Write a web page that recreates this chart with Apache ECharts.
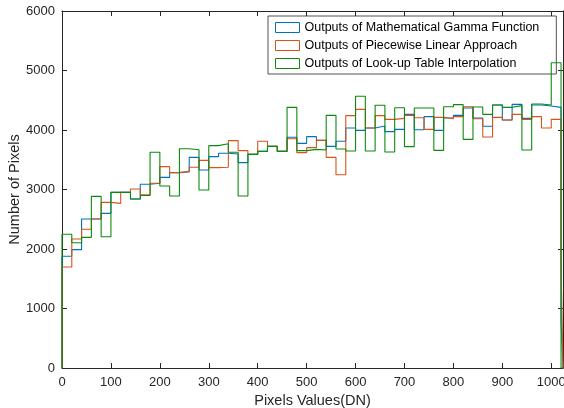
<!DOCTYPE html>
<html><head><meta charset="utf-8">
<script src="https://cdn.jsdelivr.net/npm/echarts@6/dist/echarts.min.js"></script>
<style>html,body{margin:0;padding:0;background:#fff}#c{width:564px;height:408px}</style>
</head><body><div id="c"></div>
<script>
// bin width 20 DN, last bin partial [1020,1024]
var binEdges = [];
for (var k = 0; k <= 51; k++) binEdges.push(k * 20);
binEdges.push(1024);

var seriesNames = ['Outputs of Mathematical Gamma Function','Outputs of Piecewise Linear Approach','Outputs of Look-up Table Interpolation'];

var gammaFn = [1877,1989,2504,2504,2599,2952,2952,2840,3087,3104,3204,3283,3300,3540,3328,3552,3608,3597,3451,3591,
  3641,3725,3641,3877,3776,3888,3826,3725,3810,4034,3994,4034,4067,3972,4011,4263,4005,4224,3994,4202,
  4246,4370,4202,4062,4420,4168,4431,4196,4420,4403,4381,800];
var piecewise = [1697,2168,2331,2504,2784,2767,2952,3008,2910,3104,3384,3283,3300,3373,3490,3367,3373,3821,3653,3591,
  3810,3725,3641,3854,3619,3703,3826,3540,3249,4241,4347,4034,4241,4179,4196,4246,4207,4011,4213,4190,
  4224,4392,4190,3882,4213,4168,4263,4179,4224,4034,4179,1750];
var lookup = [2247,2106,2196,2885,2207,2952,2952,2840,2900,3625,3059,2891,3686,3669,2992,3737,3770,3625,2891,3591,
  3641,3725,3641,4381,3653,3675,3664,4246,3681,3647,4566,3647,4415,3630,4375,3720,4370,4370,3658,4392,
  4426,3843,4387,4263,4420,4381,4409,3664,4437,4420,5131,0];

var xTicks = [0,100,200,300,400,500,600,700,800,900,1000];
var yTicks = [0,1000,2000,3000,4000,5000,6000];
var colors = ['#0072BD','#D95319','#0d8a0d'];

function stairs(vals){
  var pts = [[binEdges[0],0]];
  for (var i = 0; i < vals.length; i++){
    pts.push([binEdges[i], vals[i]]);
    pts.push([binEdges[i+1], vals[i]]);
  }
  pts.push([binEdges[vals.length], 0]);
  return pts;
}

var axisColor = '#262626';
var font = 'Liberation Sans, Arial, Helvetica, sans-serif';
var chart = echarts.init(document.getElementById('c'));
var allData = [gammaFn, piecewise, lookup];
chart.setOption({
  animation:false,
  backgroundColor:'#fff',
  grid:{left:62, top:11, width:501, height:357, containLabel:false, outerBoundsMode:'none'},
  legend:{
    orient:'vertical', left:268, top:16, padding:[5,17,4,7], itemGap:5,
    itemWidth:24, itemHeight:10, icon:'rect',
    backgroundColor:'#fff', borderColor:'#262626', borderWidth:0.8,
    itemStyle:{color:'#fff', borderColor:'inherit', borderWidth:1},
    textStyle:{fontFamily:font, fontSize:12.5, color:'#000'},
    data: seriesNames
  },
  xAxis:[{
    type:'value', min:0, max:1024, interval:100, position:'bottom',
    name:'Pixels Values(DN)', nameLocation:'middle', nameGap:24,
    nameTextStyle:{fontFamily:font, fontSize:14.5, color:axisColor},
    axisLine:{lineStyle:{color:axisColor, width:1}},
    axisTick:{inside:true, length:5, lineStyle:{color:axisColor}},
    axisLabel:{fontFamily:font, fontSize:13, color:axisColor, margin:8, showMaxLabel:false,
      formatter:function(v){return xTicks.indexOf(v)>=0 ? String(v) : '';}},
    splitLine:{show:false}
  },{
    type:'value', min:0, max:1024, interval:100, position:'top',
    axisLine:{show:true, onZero:false, lineStyle:{color:axisColor, width:1}},
    axisTick:{inside:true, length:5, lineStyle:{color:axisColor}},
    axisLabel:{show:false}, splitLine:{show:false}
  }],
  yAxis:[{
    type:'value', min:0, max:6000, interval:1000, position:'left',
    name:'Number of Pixels', nameLocation:'middle', nameGap:40, nameMoveOverlap:false,
    nameTextStyle:{fontFamily:font, fontSize:14.5, color:axisColor},
    axisLine:{show:true, lineStyle:{color:axisColor, width:1}},
    axisTick:{show:true, inside:true, length:5, lineStyle:{color:axisColor}},
    axisLabel:{fontFamily:font, fontSize:13, color:axisColor, margin:7,
      formatter:function(v){return yTicks.indexOf(v)>=0 ? String(v) : '';}},
    splitLine:{show:false}
  },{
    type:'value', min:0, max:6000, interval:1000, position:'right',
    axisLine:{show:true, onZero:false, lineStyle:{color:axisColor, width:1}},
    axisTick:{show:true, inside:true, length:5, lineStyle:{color:axisColor}},
    axisLabel:{show:false}, splitLine:{show:false}
  }],
  series: allData.map(function(d,i){
    return {name:seriesNames[i], type:'line', data:stairs(d), showSymbol:false, symbol:'none',
      lineStyle:{color:colors[i], width:1.1}, itemStyle:{color:colors[i], borderColor:colors[i]}, z:2+i, clip:true};
  })
});
</script></body></html>
